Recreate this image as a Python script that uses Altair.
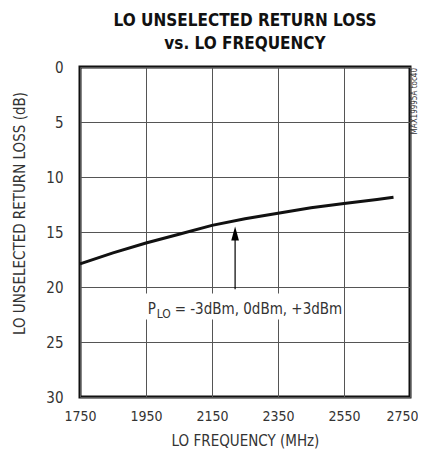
import altair as alt
import pandas as pd

freq = [1750, 1850, 1950, 2050, 2150, 2250, 2350, 2450, 2550, 2650, 2700]
rl = [17.9, 16.9, 16.0, 15.2, 14.4, 13.8, 13.3, 12.8, 12.4, 12.05, 11.85]
x_ticks = [1750, 1950, 2150, 2350, 2550, 2750]
y_ticks = [0, 5, 10, 15, 20, 25, 30]

FONT = "DejaVu Sans Condensed"
GRAY = "#333333"

df = pd.DataFrame({"freq": freq, "rl": rl})

xs = alt.Scale(domain=[1750, 2750], nice=False)
ys = alt.Scale(domain=[0, 30], reverse=True, nice=False)

xenc = alt.X("freq:Q", scale=xs, axis=alt.Axis(
    values=x_ticks, format="d", title="LO FREQUENCY (MHz)", grid=True, ticks=False, domain=False,
    labelFont=FONT, labelFontSize=14, labelColor=GRAY, labelPadding=12,
    labelOffset={"condition": {"test": "datum.value == 2750", "value": -8}, "value": 0},
    titleFont=FONT, titleFontSize=15, titleColor=GRAY, titleFontWeight="normal", titlePadding=10,
    gridColor="#555555", gridWidth=1, labelFlush=False))
yenc = alt.Y("rl:Q", scale=ys, axis=alt.Axis(
    values=y_ticks, format="d", title="LO UNSELECTED RETURN LOSS (dB)", grid=True, ticks=False, domain=False,
    labelFont=FONT, labelFontSize=15, labelColor=GRAY, labelPadding=17,
    titleFont=FONT, titleFontSize=15, titleColor=GRAY, titleFontWeight="normal", titlePadding=18,
    titleY=146, gridColor="#555555", gridWidth=1, labelFlush=False))

line = alt.Chart(df).mark_line(color="#111111", strokeWidth=3).encode(x=xenc, y=yenc)

box = alt.Chart(pd.DataFrame({"x": [1932], "x2": [2532], "y": [20.6], "y2": [22.95]})).mark_rect(
    fill="white").encode(x=alt.X("x:Q", scale=xs), x2="x2:Q", y=alt.Y("y:Q", scale=ys), y2="y2:Q")

arrow = alt.Chart(pd.DataFrame({"x": [2220], "y": [20.2], "y2": [15.5]})).mark_rule(
    color="black", strokeWidth=1.2).encode(x=alt.X("x:Q", scale=xs), y=alt.Y("y:Q", scale=ys), y2="y2:Q")
head = alt.Chart(pd.DataFrame({"x": [2220], "y": [15.14]})).mark_point(
    shape="M0,-1L-0.55,1L0.55,1Z", size=196, filled=True, color="black", opacity=1).encode(
    x=alt.X("x:Q", scale=xs), y=alt.Y("y:Q", scale=ys))

p_txt = alt.Chart(pd.DataFrame({"x": [1955], "y": [22.45], "t": ["P"]})).mark_text(
    font=FONT, fontSize=15, color=GRAY, align="left", baseline="alphabetic").encode(
    x=alt.X("x:Q", scale=xs), y=alt.Y("y:Q", scale=ys), text="t:N")
sub = alt.Chart(pd.DataFrame({"x": [1955], "y": [22.45], "t": ["LO"]})).mark_text(
    font=FONT, fontSize=12, color=GRAY, align="left", baseline="alphabetic", dx=9, dy=4).encode(
    x=alt.X("x:Q", scale=xs), y=alt.Y("y:Q", scale=ys), text="t:N")
rest = alt.Chart(pd.DataFrame({"x": [1955], "y": [22.45], "t": ["= -3dBm, 0dBm, +3dBm"]})).mark_text(
    font=FONT, fontSize=15, color=GRAY, align="left", baseline="alphabetic", dx=27).encode(
    x=alt.X("x:Q", scale=xs), y=alt.Y("y:Q", scale=ys), text="t:N")

side = alt.Chart(pd.DataFrame({"t": ["MAX19995A toc40"]})).mark_text(
    font=FONT, fontSize=8, color=GRAY, angle=270, align="right", baseline="alphabetic").encode(
    x=alt.value(337), y=alt.value(1), text="t:N")

chart = alt.layer(line, box, arrow, head, p_txt, sub, rest, side).properties(
    width=330, height=330,
    title=alt.Title(["LO UNSELECTED RETURN LOSS", "vs. LO FREQUENCY"], font=FONT, fontSize=17,
                    fontWeight="bold", color="#111111", lineHeight=23, anchor="middle", offset=7),
    autosize=alt.AutoSizeParams(type="none"),
    padding={"left": 72, "top": 59, "right": 8, "bottom": 55},
).configure(background="white").configure_view(stroke="#111111", strokeWidth=3)

chart.save("out.html", embed_options={"renderer": "svg", "actions": False})
